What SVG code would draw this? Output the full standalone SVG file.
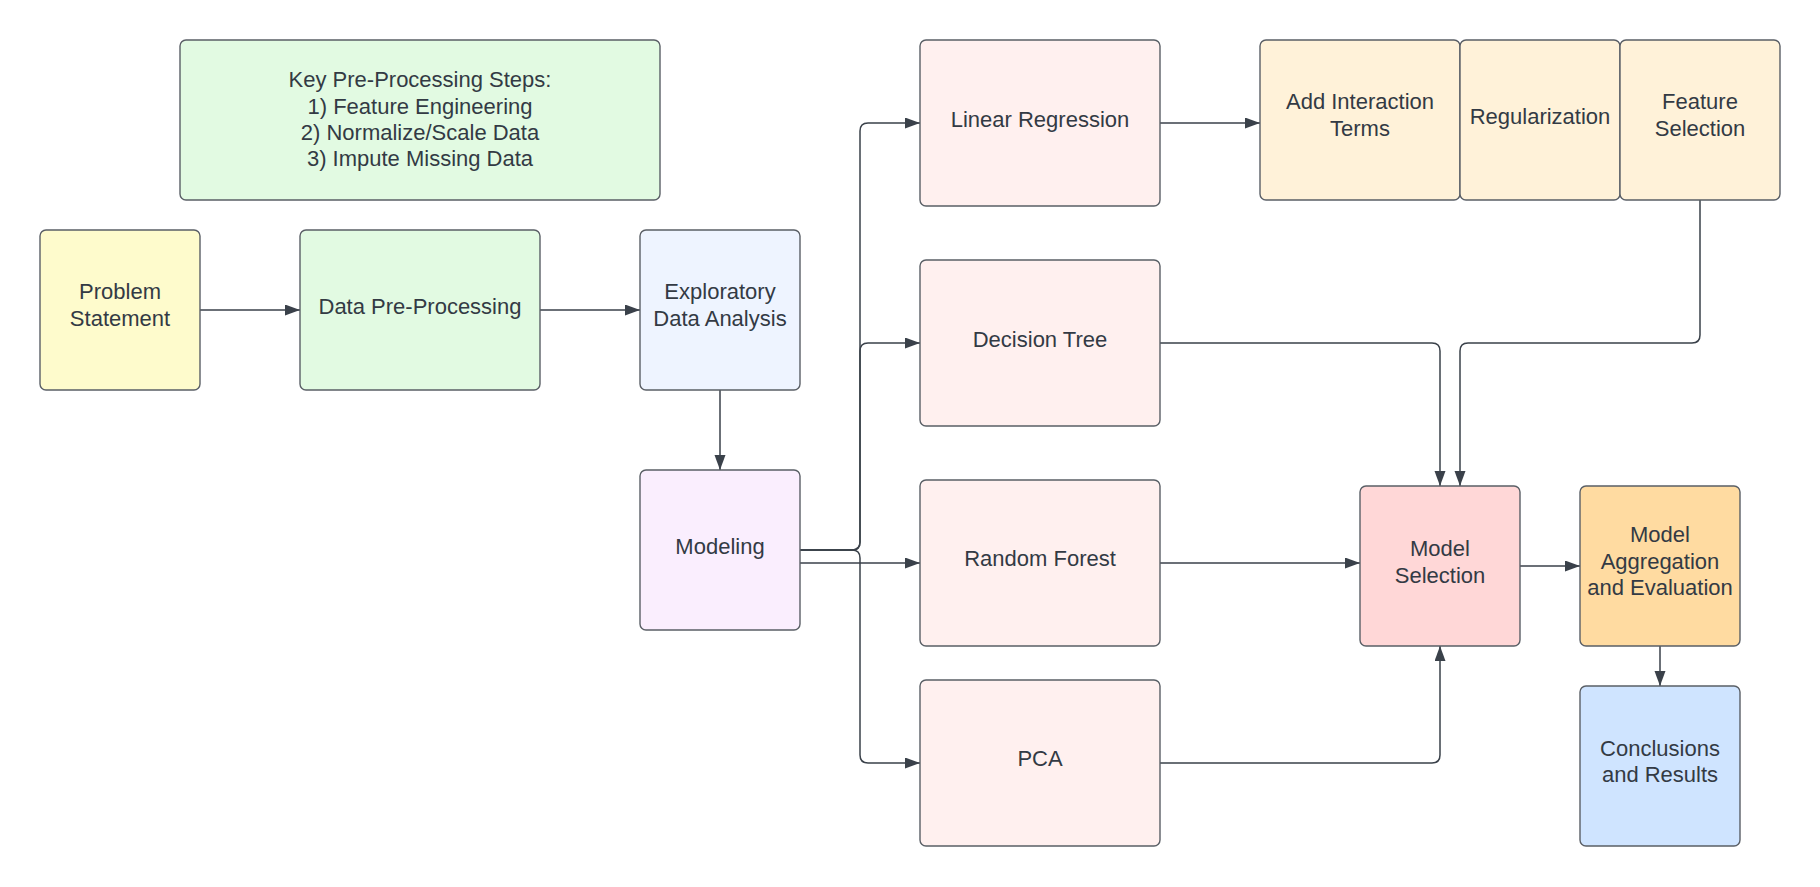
<svg xmlns="http://www.w3.org/2000/svg" width="1820" height="887" viewBox="0 0 1820 887">
  <defs>
    <marker id="arrow" markerUnits="userSpaceOnUse" markerWidth="16" markerHeight="12" refX="15" refY="5.5" orient="auto">
      <path d="M0,0 L15,5.5 L0,11 Z" fill="#3a414a"/>
    </marker>
    <style>
      .box { stroke: #5a5f66; stroke-width: 1.4; }
      .lbl { font-family: "Liberation Sans", Arial, sans-serif; font-size: 22px; fill: #333a44; text-anchor: middle; }
      .conn { fill: none; stroke: #3a414a; stroke-width: 1.5; }
      .arr { marker-end: url(#arrow); }
    </style>
  </defs>
  <rect width="1820" height="887" fill="#ffffff"/>

  <g id="connectors">
    <path class="conn arr" d="M200,310 H300"/>
    <path class="conn arr" d="M540,310 H640"/>
    <path class="conn arr" d="M720,390 V470"/>
    <path class="conn arr" d="M800,550 H852 Q860,550 860,542 V131 Q860,123 868,123 H920"/>
    <path class="conn arr" d="M800,550 H852 Q860,550 860,542 V351 Q860,343 868,343 H920"/>
    <path class="conn arr" d="M800,550 H852 Q860,550 860,558 V755 Q860,763 868,763 H920"/>
    <path class="conn arr" d="M800,563 H920"/>
    <path class="conn arr" d="M1160,123 H1260"/>
    <path class="conn arr" d="M1160,343 H1432 Q1440,343 1440,351 V486"/>
    <path class="conn arr" d="M1700,200 V335 Q1700,343 1692,343 H1468 Q1460,343 1460,351 V486"/>
    <path class="conn arr" d="M1160,563 H1360"/>
    <path class="conn arr" d="M1160,763 H1432 Q1440,763 1440,755 V646"/>
    <path class="conn arr" d="M1520,566 H1580"/>
    <path class="conn arr" d="M1660,646 V686"/>
  </g>

  <g id="key-steps">
    <rect class="box" x="180" y="40" width="480" height="160" rx="6" fill="#e2fae2"/>
    <text class="lbl" x="420" y="87">Key Pre-Processing Steps:</text>
    <text class="lbl" x="420" y="113.5">1) Feature Engineering</text>
    <text class="lbl" x="420" y="140">2) Normalize/Scale Data</text>
    <text class="lbl" x="420" y="166">3) Impute Missing Data</text>
  </g>

  <g id="problem-statement">
    <rect class="box" x="40" y="230" width="160" height="160" rx="6" fill="#fefbcc"/>
    <text class="lbl" x="120" y="299">Problem</text>
    <text class="lbl" x="120" y="326">Statement</text>
  </g>

  <g id="data-preprocessing">
    <rect class="box" x="300" y="230" width="240" height="160" rx="6" fill="#e2fae2"/>
    <text class="lbl" x="420" y="314">Data Pre-Processing</text>
  </g>

  <g id="eda">
    <rect class="box" x="640" y="230" width="160" height="160" rx="6" fill="#eef4ff"/>
    <text class="lbl" x="720" y="299">Exploratory</text>
    <text class="lbl" x="720" y="326">Data Analysis</text>
  </g>

  <g id="modeling">
    <rect class="box" x="640" y="470" width="160" height="160" rx="6" fill="#faeefe"/>
    <text class="lbl" x="720" y="554">Modeling</text>
  </g>

  <g id="linear-regression">
    <rect class="box" x="920" y="40" width="240" height="166" rx="6" fill="#fff0ef"/>
    <text class="lbl" x="1040" y="127">Linear Regression</text>
  </g>

  <g id="decision-tree">
    <rect class="box" x="920" y="260" width="240" height="166" rx="6" fill="#fff0ef"/>
    <text class="lbl" x="1040" y="347">Decision Tree</text>
  </g>

  <g id="random-forest">
    <rect class="box" x="920" y="480" width="240" height="166" rx="6" fill="#fff0ef"/>
    <text class="lbl" x="1040" y="566">Random Forest</text>
  </g>

  <g id="pca">
    <rect class="box" x="920" y="680" width="240" height="166" rx="6" fill="#fff0ef"/>
    <text class="lbl" x="1040" y="766">PCA</text>
  </g>

  <g id="add-interaction-terms">
    <rect class="box" x="1260" y="40" width="200" height="160" rx="6" fill="#fff2d9"/>
    <text class="lbl" x="1360" y="109">Add Interaction</text>
    <text class="lbl" x="1360" y="136">Terms</text>
  </g>

  <g id="regularization">
    <rect class="box" x="1460" y="40" width="160" height="160" rx="6" fill="#fff2d9"/>
    <text class="lbl" x="1540" y="124">Regularization</text>
  </g>

  <g id="feature-selection">
    <rect class="box" x="1620" y="40" width="160" height="160" rx="6" fill="#fff2d9"/>
    <text class="lbl" x="1700" y="109">Feature</text>
    <text class="lbl" x="1700" y="136">Selection</text>
  </g>

  <g id="model-selection">
    <rect class="box" x="1360" y="486" width="160" height="160" rx="6" fill="#ffd7d7"/>
    <text class="lbl" x="1440" y="556">Model</text>
    <text class="lbl" x="1440" y="583">Selection</text>
  </g>

  <g id="model-aggregation">
    <rect class="box" x="1580" y="486" width="160" height="160" rx="6" fill="#ffdba1"/>
    <text class="lbl" x="1660" y="542">Model</text>
    <text class="lbl" x="1660" y="569">Aggregation</text>
    <text class="lbl" x="1660" y="595">and Evaluation</text>
  </g>

  <g id="conclusions">
    <rect class="box" x="1580" y="686" width="160" height="160" rx="6" fill="#cfe4ff"/>
    <text class="lbl" x="1660" y="756">Conclusions</text>
    <text class="lbl" x="1660" y="782">and Results</text>
  </g>
</svg>
